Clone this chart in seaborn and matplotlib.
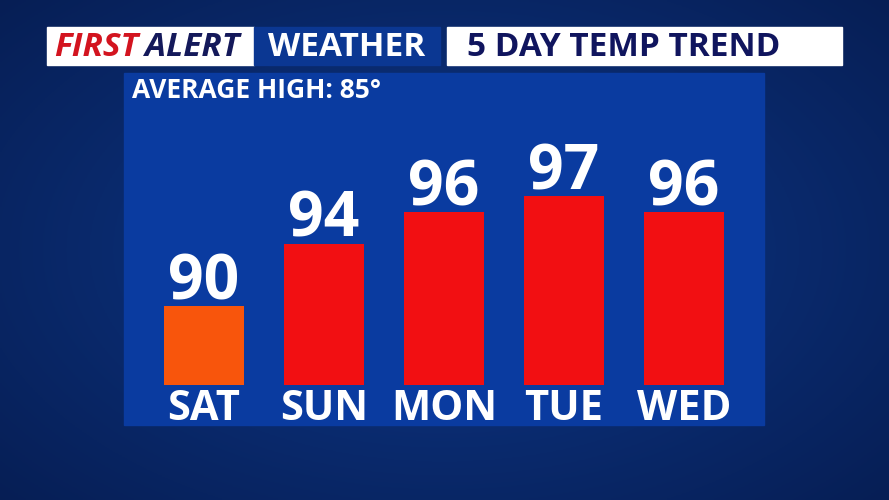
import numpy as np
import pandas as pd
import matplotlib
matplotlib.use("Agg")
import matplotlib.pyplot as plt
from matplotlib.patches import Rectangle
import seaborn as sns

days = ["SAT", "SUN", "MON", "TUE", "WED"]
highs = [90, 94, 96, 97, 96]
bar_colors = ["#f8550c", "#f20f12", "#f20f12", "#f20f12", "#f20f12"]
average_high = 85
title_left_red = "FIRST"
title_left_navy = "ALERT"
title_mid = "WEATHER"
title_right = "5 DAY TEMP TREND"
subtitle = "AVERAGE HIGH: 85°"

sns.set_theme(style="white")
plt.rcParams["font.family"] = ["Open Sans", "DejaVu Sans"]

W, H = 889, 500
fig = plt.figure(figsize=(W / 100, H / 100), dpi=100)

# background gradient
bg = fig.add_axes([0, 0, 1, 1])
yy, xx = np.mgrid[0:1:200j, 0:1:356j]
r = np.sqrt(((xx - 0.5) / 0.8) ** 2 + ((yy - 0.5) / 0.85) ** 2)
c0 = np.array([14, 56, 138]) / 255
c1 = np.array([5, 26, 76]) / 255
t = np.clip(r, 0, 1)[..., None]
img = c0 * (1 - t) + c1 * t
bg.imshow(img, extent=[0, W, H, 0], aspect="auto")
bg.set_xlim(0, W)
bg.set_ylim(H, 0)
bg.axis("off")

# header boxes
bg.add_patch(Rectangle((47, 27), 207, 38, color="white", zorder=2))
bg.add_patch(Rectangle((254, 27), 186, 38, color="#0b3792", zorder=2))
bg.add_patch(Rectangle((447, 27), 395, 38, color="white", zorder=2))
bg.text(54, 47, title_left_red, color="#d3141f", fontsize=24, fontweight="bold",
        fontstyle="italic", va="center", ha="left", zorder=3)
bg.text(145, 47, title_left_navy, color="#14195a", fontsize=24, fontweight="bold",
        fontstyle="italic", va="center", ha="left", zorder=3)
bg.text(347, 47, title_mid, color="white", fontsize=24, fontweight="bold",
        va="center", ha="center", zorder=3)
bg.text(467, 47, title_right, color="#10155e", fontsize=24, fontweight="bold",
        va="center", ha="left", zorder=3)

# panel
bg.add_patch(Rectangle((124, 73), 640, 352, color="#0a3ba0", zorder=2))
bg.text(132, 90, subtitle, color="white", fontsize=19, fontweight="bold",
        va="center", ha="left", zorder=3)

# bar axes: x 124..764, y 73..385 px
ax = fig.add_axes([124 / W, 1 - 385 / H, 640 / W, (385 - 73) / H])
ax.patch.set_alpha(0)
df = pd.DataFrame({"day": days, "high": highs})
sns.barplot(data=df, x="day", y="high", hue="day", palette=bar_colors,
            width=0.667, legend=False, ax=ax, saturation=1, linewidth=0,
            edgecolor="none")
ax.set_ylim(average_high, average_high + 312 / 15.71)
ax.set_xlim(-0.667, 4.667)
for p, v in zip(ax.patches, highs):
    ax.annotate(f"{v}", (p.get_x() + p.get_width() / 2, v), xytext=(0, 5),
                textcoords="offset points", ha="center", va="baseline",
                color="white", fontsize=45, fontweight="bold", annotation_clip=False)
ax.set_xlabel("")
ax.set_ylabel("")
ax.set_yticks([])
ax.tick_params(axis="x", length=0, pad=3, labelsize=30, labelcolor="white")
for lbl in ax.get_xticklabels():
    lbl.set_fontweight("bold")
for s in ax.spines.values():
    s.set_visible(False)

fig.savefig("out.png", dpi=100)
